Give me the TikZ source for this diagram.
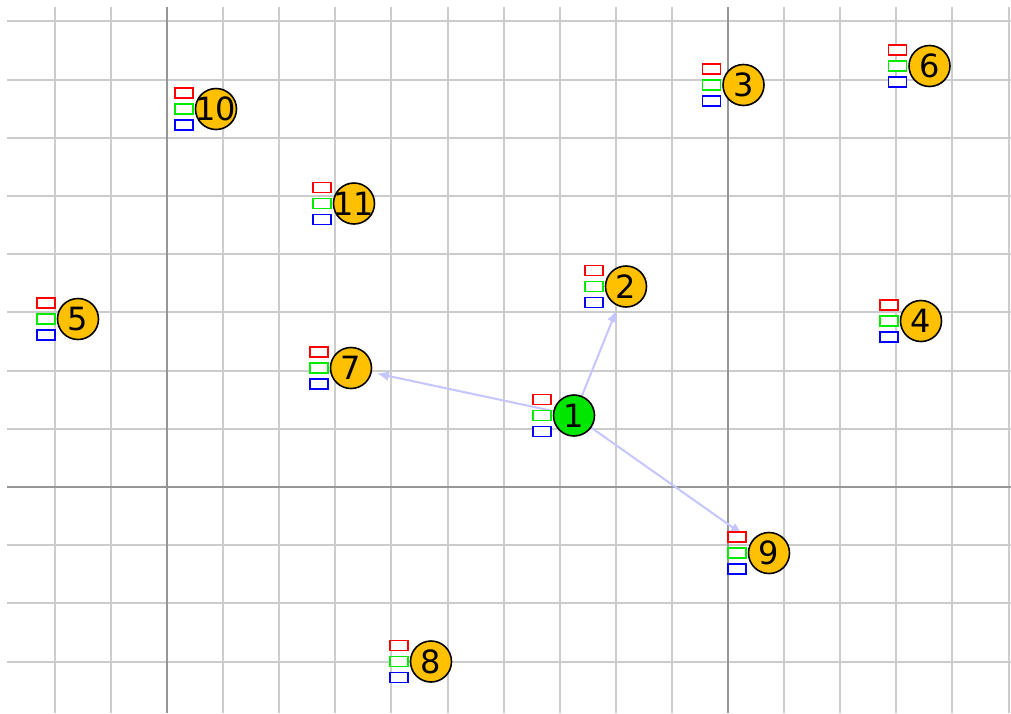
\documentclass[tikz,border=0pt]{standalone}
\usepackage{fontspec}
\setmainfont{DejaVu Sans}
\usetikzlibrary{arrows.meta}
\pgfdeclarelayer{bg}
\pgfdeclarelayer{edges}
\pgfsetlayers{bg,edges,main}
\definecolor{gridlight}{RGB}{204,204,204}
\definecolor{griddark}{RGB}{150,150,150}
\definecolor{nodeyellow}{RGB}{255,192,0}
\definecolor{nodegreen}{RGB}{0,230,0}
\definecolor{edgeblue}{RGB}{198,198,255}
\definecolor{flagred}{RGB}{255,0,0}
\definecolor{flaggreen}{RGB}{0,235,0}
\definecolor{flagblue}{RGB}{0,0,255}
\newcommand\qlbl[1]{\makebox[0pt]{#1}}
\newcommand\qflags[1]{%
  \node[flagbox,draw=flagred]   (#1r) at ([xshift=-32pt,yshift=16pt]#1.center) {};
  \node[flagbox,draw=flaggreen] (#1g) at ([xshift=-32pt]#1.center) {};
  \node[flagbox,draw=flagblue]  (#1b) at ([xshift=-32pt,yshift=-16pt]#1.center) {};
}
\tikzset{
  gridline/.style={draw=gridlight,line width=2pt},
  gridmajor/.style={draw=griddark,line width=2pt},
  netnode/.style={circle,draw=black,line width=1.6pt,minimum size=41pt,inner sep=0pt,outer sep=0pt,
    font=\fontsize{32}{32}\selectfont},
  ynode/.style={netnode,fill=nodeyellow},
  gnode/.style={netnode,fill=nodegreen},
  flagbox/.style={rectangle,minimum width=18pt,minimum height=10pt,inner sep=0pt,line width=1.6pt,fill=white},
  edge/.style={draw=edgeblue,line width=2pt,-{Latex[length=12pt,width=10pt]}}
}
\begin{document}
\begin{tikzpicture}[x=1pt,y=-1pt]
\useasboundingbox (0,0) rectangle (1011,713);
\begin{pgfonlayer}{bg}
  \fill[white] (0,0) rectangle (1011,713);
  \begin{scope}
    \clip (7,7) rectangle (1011,713);
    \foreach \k in {-2,...,15} {
      \pgfmathsetmacro\xx{167+56.1*\k}
      \draw[gridline] (\xx,0) -- (\xx,713);
    }
    \foreach \k in {-8,...,3} {
      \pgfmathsetmacro\yy{487+58.2*\k}
      \draw[gridline] (0,\yy) -- (1011,\yy);
    }
    \draw[gridmajor] (167,0) -- (167,713);
    \draw[gridmajor] (728,0) -- (728,713);
    \draw[gridmajor] (0,487) -- (1011,487);
  \end{scope}
\end{pgfonlayer}

\node[gnode] (n1)  at (574,415.5) {\qlbl{1}};
\node[ynode] (n2)  at (626,286.5) {\qlbl{2}};
\node[ynode] (n3)  at (743.5,85)  {\qlbl{3}};
\node[ynode] (n4)  at (921,321)   {\qlbl{4}};
\node[ynode] (n5)  at (78,319)    {\qlbl{5}};
\node[ynode] (n6)  at (929.5,66)  {\qlbl{6}};
\node[ynode] (n7)  at (351,368)   {\qlbl{7}};
\node[ynode] (n8)  at (431,661.5) {\qlbl{8}};
\node[ynode] (n9)  at (769,553)   {\qlbl{9}};
\node[ynode] (n10) at (216,109)   {\qlbl{10}};
\node[ynode] (n11) at (354,203.5) {\qlbl{11}};

\qflags{n1}\qflags{n2}\qflags{n3}\qflags{n4}\qflags{n5}\qflags{n6}
\qflags{n7}\qflags{n8}\qflags{n9}\qflags{n10}\qflags{n11}

\begin{pgfonlayer}{edges}
  \draw[edge,shorten >=6pt]  (n1) -- (n7);
  \draw[edge,shorten >=5pt]  (n1) -- (n2);
  \draw[edge,shorten >=12pt] (n1) -- (n9);
\end{pgfonlayer}
\end{tikzpicture}
\end{document}
